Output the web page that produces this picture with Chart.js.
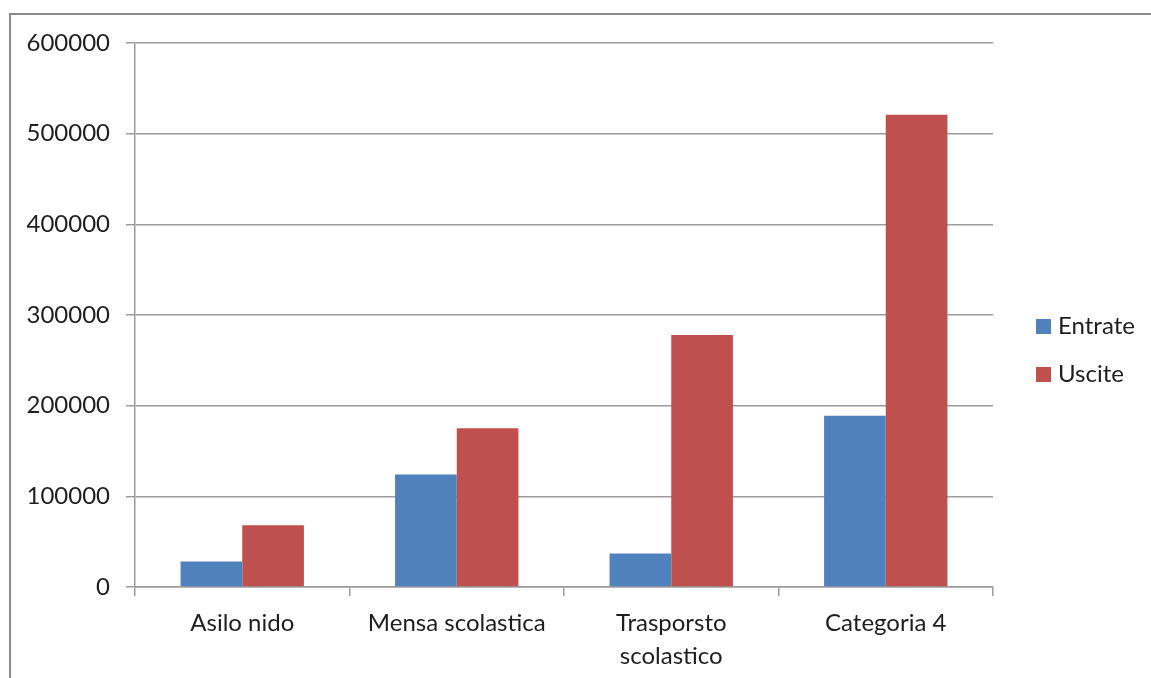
<!DOCTYPE html>
<html>
<head>
<meta charset="utf-8">
<script src="https://cdn.jsdelivr.net/npm/chart.js@4/dist/chart.umd.min.js"></script>
<style>
	html, body { margin: 0; padding: 0; background: #fff; }
	#wrap { width: 1151px; height: 678px; position: relative; }
</style>
</head>
<body>
<div id="wrap"><canvas id="chart"></canvas></div>
<script>
var categories = ["Asilo nido", "Mensa scolastica", ["Trasporsto", "scolastico"], "Categoria 4"]
var entrate    = [28000, 124000, 37000, 189000]
var uscite     = [68000, 175000, 278000, 521000]
var yTicks     = [0, 100000, 200000, 300000, 400000, 500000, 600000]

var FONT = "Lato, 'Open Sans', sans-serif"
var GRID = "#9c9c9c"
var TEXT = "#1e1e1e"

// outer frame (only top and left edges visible) + legend on the right
var framePlugin = {
	id: "frame",
	beforeDraw: function (chart) {
		var ctx = chart.ctx
		ctx.save()
		ctx.fillStyle = "#fff"
		ctx.fillRect(0, 0, chart.width, chart.height)
		ctx.strokeStyle = "#8a8a8a"
		ctx.lineWidth = 2
		ctx.beginPath()
		ctx.moveTo(10, chart.height)
		ctx.lineTo(10, 14)
		ctx.lineTo(chart.width, 14)
		ctx.stroke()
		ctx.restore()
	},
	afterDraw: function (chart) {
		var ctx = chart.ctx
		ctx.save()
		ctx.font = "24px " + FONT
		ctx.textBaseline = "middle"
		chart.data.datasets.forEach(function (ds, i) {
			var y = 326 + i * 48
			ctx.fillStyle = ds.backgroundColor
			ctx.fillRect(1036, y - 7, 15, 15)
			ctx.fillStyle = TEXT
			ctx.fillText(ds.label, 1058, y)
		})
		ctx.restore()
	}
}

new Chart(document.getElementById("chart"), {
	type: "bar",
	data: {
		labels: categories,
		datasets: [
			{ label: "Entrate", data: entrate, backgroundColor: "#4f81bd" },
			{ label: "Uscite",  data: uscite,  backgroundColor: "#c0504d" }
		]
	},
	options: {
		responsive: true,
		maintainAspectRatio: false,
		animation: false,
		devicePixelRatio: 1,
		layout: { padding: { top: 43, right: 158, left: 12, bottom: 0 } },
		plugins: {
			legend: { display: false },
			tooltip: { enabled: false }
		},
		datasets: {
			bar: { categoryPercentage: 0.575, barPercentage: 1.0 }
		},
		scales: {
			x: {
				grid: { offset: true, drawOnChartArea: false, color: GRID, lineWidth: 1.5, tickLength: 9 },
				border: { color: GRID, width: 1.5 },
				ticks: {
					color: TEXT,
					font: { family: FONT, size: 24, lineHeight: 1.4 },
					padding: 10,
					maxRotation: 0,
					autoSkip: false
				},
				afterFit: function (scale) { scale.height = 678 - 587 }
			},
			y: {
				min: 0,
				max: 600000,
				afterBuildTicks: function (scale) {
					scale.ticks = yTicks.map(function (v) { return { value: v } })
				},
				grid: { color: GRID, lineWidth: 1.5, tickLength: 9 },
				border: { color: GRID, width: 1.5 },
				ticks: {
					color: TEXT,
					font: { family: FONT, size: 24 },
					padding: 16,
					callback: function (v) { return String(v) }
				},
				afterFit: function (scale) { scale.width = 135 - 12 }
			}
		}
	},
	plugins: [framePlugin]
})
</script>
</body>
</html>
